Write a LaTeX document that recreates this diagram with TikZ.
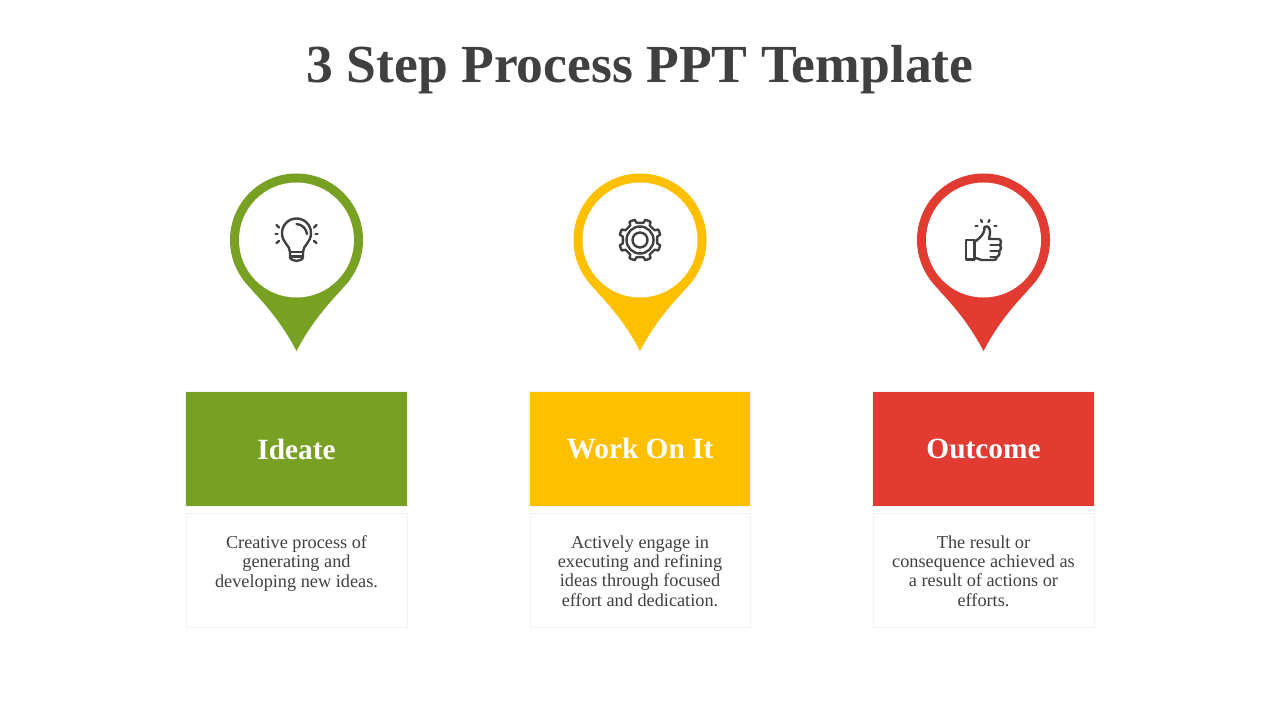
\documentclass[tikz,border=0pt]{standalone}
\usepackage{fontspec}
\setmainfont{Liberation Serif}
\definecolor{leafgreen}{HTML}{78A022}
\definecolor{sunyellow}{HTML}{FFC000}
\definecolor{warmred}{HTML}{E23B32}
\definecolor{inkgray}{HTML}{404040}
\tikzset{
  headbox/.style={minimum width=165.5pt, minimum height=85.5pt, inner sep=0pt, text=white, outer sep=0pt, preaction={draw=black!5, line width=2pt}, font=\fontsize{22}{26}\selectfont\bfseries},
  notebox/.style={minimum width=164.5pt, minimum height=85pt, inner sep=0pt, fill=white, preaction={draw=black!5, line width=1.6pt}},
  notetext/.style={anchor=north, align=center, inner sep=0pt, text=inkgray, font=\fontsize{13.7}{14.4}\selectfont},
  iconline/.style={draw=inkgray, line width=1.8pt, line cap=round, line join=round},
  pics/mappin/.style={code={
    \fill[#1] (0,0) circle[radius=66.5];
    \fill[#1] (-53,40) -- (-42,53) .. controls (-26,70) and (-12,88) .. (0,111) .. controls (12,88) and (26,70) .. (42,53) -- (53,40) -- cycle;
    \fill[white] (0,0) circle[radius=57.5];
  }}
}
\begin{document}
\begin{tikzpicture}[x=0.75pt, y=-0.75pt]
  \useasboundingbox (0,0) rectangle (1280,720);
  \fill[white] (0,0) rectangle (1280,720);
  \node[text=inkgray, font=\fontsize{40.2}{46}\selectfont\bfseries] (title) at (640,70) {3 Step Process PPT Template};

  % pins
  \pic at (296.5,240) {mappin=leafgreen};
  \pic at (640,240) {mappin=sunyellow};
  \pic at (983.5,240) {mappin=warmred};

  % bulb
  \begin{scope}[shift={(296.5,240)}]
    \draw[iconline] (-6.5,12) .. controls (-6.5,5) and (-14.5,3) .. (-14.5,-7) .. controls (-14.5,-15) and (-8,-21.5) .. (0,-21.5) .. controls (8,-21.5) and (14.5,-15) .. (14.5,-7) .. controls (14.5,3) and (6.5,5) .. (6.5,12) -- (6.5,17) .. controls (6.5,19) and (3,21) .. (0,21) .. controls (-3,21) and (-6.5,19) .. (-6.5,17) -- cycle;
    \draw[iconline] (-6.5,12) -- (6.5,12);
    \draw[iconline] (-6,16.5) -- (6,16.5);
    \draw[iconline] (0,-16) .. controls (6,-15.5) and (10,-11) .. (10.5,-6);
    \draw[iconline] (-21,-6) -- (-19,-6);
    \draw[iconline] (-20,-15) -- (-17.5,-12.5);
    \draw[iconline] (-20,3) -- (-17.5,1);
    \draw[iconline] (19,-6) -- (21,-6);
    \draw[iconline] (20,-15) -- (17.5,-12.5);
    \draw[iconline] (20,3) -- (17.5,1);
  \end{scope}

  % gear
  \begin{scope}[shift={(640,240)}]
    \draw[iconline] (11.25:17.5) \foreach \a in {0,45,...,315} {
      -- ({\a+11.25}:17.5) -- ({\a+15}:21) -- ({\a+30}:21) -- ({\a+33.75}:17.5)
    } -- cycle;
    \draw[iconline] (0,0) circle[radius=13.5];
    \draw[iconline] (0,0) circle[radius=7.5];
  \end{scope}

  % thumb
  \begin{scope}[shift={(983.5,240)}]
    \draw[iconline] (-17.5,0) rectangle (-9,19.5);
    \draw[iconline] (-9,2) -- (-4,-2) .. controls (0,-6) and (1,-9) .. (1,-13) .. controls (4,-15) and (7,-12) .. (6.5,-7) -- (5.5,-1) -- (15,-1) .. controls (18,-1) and (18,4) .. (16,5) .. controls (18,6) and (18,10) .. (15.5,11) .. controls (17,13) and (15,17) .. (13,17) .. controls (14,19) and (12,20) .. (10,20) -- (-2,20) -- (-9,17.5);
    \draw[iconline] (7,5) -- (16,5);
    \draw[iconline] (7,11) -- (15.5,11);
    \draw[iconline] (7,17) -- (13,17);
    \draw[iconline] (-2.5,-20) -- (-1.5,-18);
    \draw[iconline] (6,-20) -- (5,-18);
    \draw[iconline] (-8,-14) -- (-6,-14);
    \draw[iconline] (11,-14) -- (13,-14);
  \end{scope}

  % head boxes
  \node[headbox, fill=leafgreen] (ideate) at (296.5,449) {Ideate};
  \node[headbox, fill=sunyellow] (workon) at (640,449) {Work On It};
  \node[headbox, fill=warmred] (outcome) at (983.5,449) {Outcome};

  % note boxes
  \node[notebox] (ideatebox) at (297,570.5) {};
  \node[notebox] (workonbox) at (640.5,570.5) {};
  \node[notebox] (outcomebox) at (984,570.5) {};

  \node[notetext] (ideatenote) at (296.5,535.5) {Creative process of\\generating and\\developing new ideas.};
  \node[notetext] (workonnote) at (640,535.5) {Actively engage in\\executing and refining\\ideas through focused\\effort and dedication.};
  \node[notetext] (outcomenote) at (983.5,535.5) {The result or\\consequence achieved as\\a result of actions or\\efforts.};
\end{tikzpicture}
\end{document}
